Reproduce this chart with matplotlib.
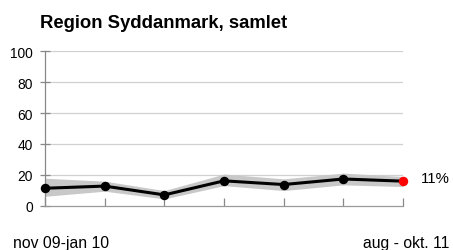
import matplotlib
matplotlib.use("Agg")
import matplotlib.pyplot as plt

periods = ["nov 09-jan 10", "p2", "p3", "p4", "p5", "p6", "aug - okt. 11"]
values = [11.3, 12.7, 7.0, 16.1, 13.7, 17.3, 15.9]
upper = [17.8, 15.9, 9.8, 20.5, 17.4, 21.1, 18.9]
lower = [6.1, 9.4, 4.4, 13.0, 9.8, 13.5, 12.4]
yticks = [0, 20, 40, 60, 80, 100]
title = "Region Syddanmark, samlet"
end_label = "11%"

plt.rcParams['font.family'] = ['Liberation Sans', 'DejaVu Sans']

fig = plt.figure(figsize=(4.53, 2.51), dpi=100)
ax = fig.add_axes([45/453, 1-206.7/251, (403-45)/453, (206.7-52.3)/251])
x = list(range(len(values)))

ax.fill_between(x, lower, upper, color='#c8c8c8', lw=0, zorder=1)
ax.plot(x, values, color='black', lw=2.2, zorder=3, clip_on=False)
ax.plot(x[:-1], values[:-1], 'o', color='black', ms=5.8, zorder=4, clip_on=False)
ax.plot(x[-1], values[-1], 'o', color='#ff0000', ms=5.8, zorder=5, clip_on=False)

ax.set_xlim(0, len(values)-1)
ax.set_ylim(0, 100)
ax.set_yticks(yticks)
ax.set_yticklabels([str(t) for t in yticks], fontsize=9.9)
ax.set_xticks(x)
ax.set_xticklabels([])
for t in yticks[1:]:
    ax.axhline(t, color='#d0d0d0', lw=0.9, zorder=0)
for s in ['top', 'right']:
    ax.spines[s].set_visible(False)
ax.spines['left'].set_color('#888888')
ax.spines['bottom'].set_color('#999999')
ax.spines['left'].set_linewidth(0.9)
ax.spines['bottom'].set_linewidth(0.9)
ax.tick_params(axis='y', direction='inout', length=7.2, color='#888888', width=0.9, pad=5)
ax.tick_params(axis='x', direction='in', length=5.8, color='#888888', width=0.9)

fig.text(40/453, 1-27.7/251, title, fontsize=13.3, fontweight='bold', va='baseline', ha='left')
fig.text(13/453, 1-248/251, periods[0], fontsize=11.3, va='baseline', ha='left')
fig.text(449/453, 1-248/251, periods[-1], fontsize=11.3, va='baseline', ha='right')
fig.text(421/453, 1-183.3/251, end_label, fontsize=10.8, va='baseline', ha='left')

fig.savefig("out.png", dpi=100)
